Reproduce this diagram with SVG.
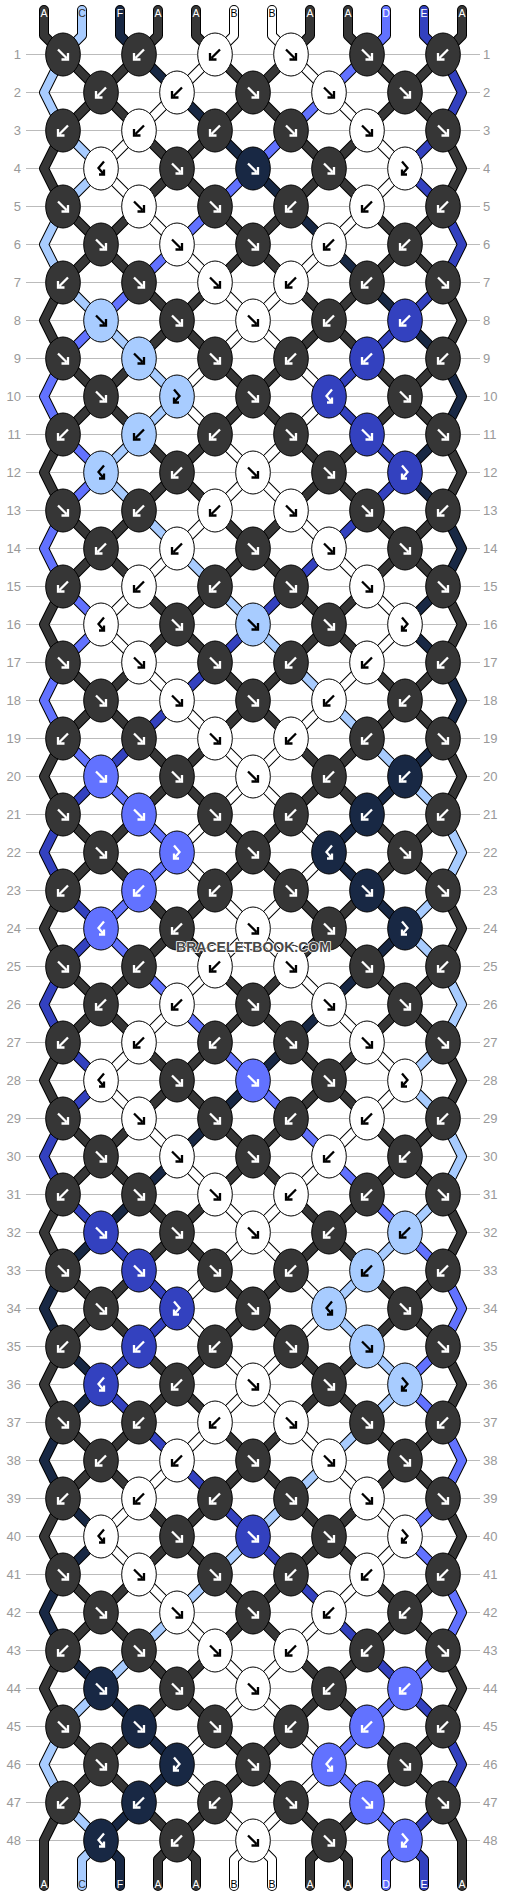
<svg xmlns="http://www.w3.org/2000/svg" xmlns:xlink="http://www.w3.org/1999/xlink" width="506" height="1896" viewBox="0 0 506 1896">
<style>
.rl{stroke:#bbb;stroke-width:1;fill:none}
.lab{font-family:"Liberation Sans",Arial,sans-serif;font-size:13px;fill:#999}
.sl{font-family:"Liberation Sans",Arial,sans-serif;font-size:10.5px;text-anchor:middle}
.so{fill:none;stroke:#000;stroke-width:10;stroke-linejoin:round;stroke-linecap:round}
.si{fill:none;stroke-width:8;stroke-linejoin:round;stroke-linecap:round}
.cA{stroke:#363636}.cB{stroke:#fff}.cC{stroke:#a8ccff}.cD{stroke:#6272ff}.cE{stroke:#3341bf}.cF{stroke:#182844}
.A{fill:#363636;stroke:#fff}.B{fill:#fff;stroke:#000}.C{fill:#a8ccff;stroke:#000}.D{fill:#6272ff;stroke:#fff}.E{fill:#3341bf;stroke:#fff}.F{fill:#182844;stroke:#fff}
.wm{font-family:"Liberation Sans",Arial,sans-serif;font-size:14px;font-weight:bold;fill:#484848;stroke:#fff;stroke-width:1.6px;paint-order:stroke;text-anchor:middle}
</style>
<defs>
<ellipse id="e" rx="17.3" ry="21.5" stroke="#000" stroke-width="1"/>
<path id="f" fill="none" stroke-width="2.3" d="M-5,-5L3.5,3.5M5,-1.5V5H-1.5"/>
<path id="b" fill="none" stroke-width="2.3" d="M5,-5L-3.5,3.5M-5,-1.5V5H1.5"/>
<path id="fb" fill="none" stroke-width="2.3" d="M-3,-7L2.5,-0.5L-3,6M-3,1V6H2"/>
<path id="bf" fill="none" stroke-width="2.3" d="M3,-7L-2.5,-0.5L3,6M3,1V6H-2"/>
<polyline id="s0" points="44,10 44,35.5 63,54.5 101,92.5 139,130.5 177,168.5 215,206.5 253,244.5 291,282.5 329,320.5 367,358.5 405,396.5 443,434.5 462,472.5 443,510.5 405,548.5 367,586.5 329,624.5 291,662.5 253,700.5 215,738.5 177,776.5 139,814.5 101,852.5 63,890.5 44,928.5 63,966.5 101,1004.5 139,1042.5 177,1080.5 215,1118.5 253,1156.5 291,1194.5 329,1232.5 367,1270.5 405,1308.5 443,1346.5 462,1384.5 443,1422.5 405,1460.5 367,1498.5 329,1536.5 291,1574.5 253,1612.5 215,1650.5 177,1688.5 139,1726.5 101,1764.5 63,1802.5 44,1840.5 44,1886"/>
<polyline id="s11" points="462,10 462,35.5 443,54.5 405,92.5 367,130.5 329,168.5 291,206.5 253,244.5 215,282.5 177,320.5 139,358.5 101,396.5 63,434.5 44,472.5 63,510.5 101,548.5 139,586.5 177,624.5 215,662.5 253,700.5 291,738.5 329,776.5 367,814.5 405,852.5 443,890.5 462,928.5 443,966.5 405,1004.5 367,1042.5 329,1080.5 291,1118.5 253,1156.5 215,1194.5 177,1232.5 139,1270.5 101,1308.5 63,1346.5 44,1384.5 63,1422.5 101,1460.5 139,1498.5 177,1536.5 215,1574.5 253,1612.5 291,1650.5 329,1688.5 367,1726.5 405,1764.5 443,1802.5 462,1840.5 462,1886"/>
<polyline id="s3" points="158,10 158,35.5 139,54.5 101,92.5 63,130.5 44,168.5 63,206.5 101,244.5 139,282.5 177,320.5 215,358.5 253,396.5 291,434.5 329,472.5 367,510.5 405,548.5 443,586.5 462,624.5 443,662.5 405,700.5 367,738.5 329,776.5 291,814.5 253,852.5 215,890.5 177,928.5 139,966.5 101,1004.5 63,1042.5 44,1080.5 63,1118.5 101,1156.5 139,1194.5 177,1232.5 215,1270.5 253,1308.5 291,1346.5 329,1384.5 367,1422.5 405,1460.5 443,1498.5 462,1536.5 443,1574.5 405,1612.5 367,1650.5 329,1688.5 291,1726.5 253,1764.5 215,1802.5 177,1840.5 158,1859.5 158,1886"/>
<polyline id="s8" points="348,10 348,35.5 367,54.5 405,92.5 443,130.5 462,168.5 443,206.5 405,244.5 367,282.5 329,320.5 291,358.5 253,396.5 215,434.5 177,472.5 139,510.5 101,548.5 63,586.5 44,624.5 63,662.5 101,700.5 139,738.5 177,776.5 215,814.5 253,852.5 291,890.5 329,928.5 367,966.5 405,1004.5 443,1042.5 462,1080.5 443,1118.5 405,1156.5 367,1194.5 329,1232.5 291,1270.5 253,1308.5 215,1346.5 177,1384.5 139,1422.5 101,1460.5 63,1498.5 44,1536.5 63,1574.5 101,1612.5 139,1650.5 177,1688.5 215,1726.5 253,1764.5 291,1802.5 329,1840.5 348,1859.5 348,1886"/>
<polyline id="s4" points="196,10 196,35.5 215,54.5 253,92.5 291,130.5 329,168.5 367,206.5 405,244.5 443,282.5 462,320.5 443,358.5 405,396.5 367,434.5 329,472.5 291,510.5 253,548.5 215,586.5 177,624.5 139,662.5 101,700.5 63,738.5 44,776.5 63,814.5 101,852.5 139,890.5 177,928.5 215,966.5 253,1004.5 291,1042.5 329,1080.5 367,1118.5 405,1156.5 443,1194.5 462,1232.5 443,1270.5 405,1308.5 367,1346.5 329,1384.5 291,1422.5 253,1460.5 215,1498.5 177,1536.5 139,1574.5 101,1612.5 63,1650.5 44,1688.5 63,1726.5 101,1764.5 139,1802.5 177,1840.5 196,1859.5 196,1886"/>
<polyline id="s7" points="310,10 310,35.5 291,54.5 253,92.5 215,130.5 177,168.5 139,206.5 101,244.5 63,282.5 44,320.5 63,358.5 101,396.5 139,434.5 177,472.5 215,510.5 253,548.5 291,586.5 329,624.5 367,662.5 405,700.5 443,738.5 462,776.5 443,814.5 405,852.5 367,890.5 329,928.5 291,966.5 253,1004.5 215,1042.5 177,1080.5 139,1118.5 101,1156.5 63,1194.5 44,1232.5 63,1270.5 101,1308.5 139,1346.5 177,1384.5 215,1422.5 253,1460.5 291,1498.5 329,1536.5 367,1574.5 405,1612.5 443,1650.5 462,1688.5 443,1726.5 405,1764.5 367,1802.5 329,1840.5 310,1859.5 310,1886"/>
<polyline id="s5" points="234,10 234,35.5 215,54.5 177,92.5 139,130.5 101,168.5 139,206.5 177,244.5 215,282.5 253,320.5 291,358.5 329,396.5 291,434.5 253,472.5 215,510.5 177,548.5 139,586.5 101,624.5 139,662.5 177,700.5 215,738.5 253,776.5 291,814.5 329,852.5 291,890.5 253,928.5 215,966.5 177,1004.5 139,1042.5 101,1080.5 139,1118.5 177,1156.5 215,1194.5 253,1232.5 291,1270.5 329,1308.5 291,1346.5 253,1384.5 215,1422.5 177,1460.5 139,1498.5 101,1536.5 139,1574.5 177,1612.5 215,1650.5 253,1688.5 291,1726.5 329,1764.5 291,1802.5 253,1840.5 234,1859.5 234,1886"/>
<polyline id="s6" points="272,10 272,35.5 291,54.5 329,92.5 367,130.5 405,168.5 367,206.5 329,244.5 291,282.5 253,320.5 215,358.5 177,396.5 215,434.5 253,472.5 291,510.5 329,548.5 367,586.5 405,624.5 367,662.5 329,700.5 291,738.5 253,776.5 215,814.5 177,852.5 215,890.5 253,928.5 291,966.5 329,1004.5 367,1042.5 405,1080.5 367,1118.5 329,1156.5 291,1194.5 253,1232.5 215,1270.5 177,1308.5 215,1346.5 253,1384.5 291,1422.5 329,1460.5 367,1498.5 405,1536.5 367,1574.5 329,1612.5 291,1650.5 253,1688.5 215,1726.5 177,1764.5 215,1802.5 253,1840.5 272,1859.5 272,1886"/>
<polyline id="s1" points="82,10 82,35.5 63,54.5 44,92.5 63,130.5 101,168.5 63,206.5 44,244.5 63,282.5 101,320.5 139,358.5 177,396.5 139,434.5 101,472.5 139,510.5 177,548.5 215,586.5 253,624.5 291,662.5 329,700.5 367,738.5 405,776.5 443,814.5 462,852.5 443,890.5 405,928.5 443,966.5 462,1004.5 443,1042.5 405,1080.5 443,1118.5 462,1156.5 443,1194.5 405,1232.5 367,1270.5 329,1308.5 367,1346.5 405,1384.5 367,1422.5 329,1460.5 291,1498.5 253,1536.5 215,1574.5 177,1612.5 139,1650.5 101,1688.5 63,1726.5 44,1764.5 63,1802.5 101,1840.5 82,1859.5 82,1886"/>
<polyline id="s2" points="120,10 120,35.5 139,54.5 177,92.5 215,130.5 253,168.5 291,206.5 329,244.5 367,282.5 405,320.5 443,358.5 462,396.5 443,434.5 405,472.5 443,510.5 462,548.5 443,586.5 405,624.5 443,662.5 462,700.5 443,738.5 405,776.5 367,814.5 329,852.5 367,890.5 405,928.5 367,966.5 329,1004.5 291,1042.5 253,1080.5 215,1118.5 177,1156.5 139,1194.5 101,1232.5 63,1270.5 44,1308.5 63,1346.5 101,1384.5 63,1422.5 44,1460.5 63,1498.5 101,1536.5 63,1574.5 44,1612.5 63,1650.5 101,1688.5 139,1726.5 177,1764.5 139,1802.5 101,1840.5 120,1859.5 120,1886"/>
<polyline id="s9" points="386,10 386,35.5 367,54.5 329,92.5 291,130.5 253,168.5 215,206.5 177,244.5 139,282.5 101,320.5 63,358.5 44,396.5 63,434.5 101,472.5 63,510.5 44,548.5 63,586.5 101,624.5 63,662.5 44,700.5 63,738.5 101,776.5 139,814.5 177,852.5 139,890.5 101,928.5 139,966.5 177,1004.5 215,1042.5 253,1080.5 291,1118.5 329,1156.5 367,1194.5 405,1232.5 443,1270.5 462,1308.5 443,1346.5 405,1384.5 443,1422.5 462,1460.5 443,1498.5 405,1536.5 443,1574.5 462,1612.5 443,1650.5 405,1688.5 367,1726.5 329,1764.5 367,1802.5 405,1840.5 386,1859.5 386,1886"/>
<polyline id="s10" points="424,10 424,35.5 443,54.5 462,92.5 443,130.5 405,168.5 443,206.5 462,244.5 443,282.5 405,320.5 367,358.5 329,396.5 367,434.5 405,472.5 367,510.5 329,548.5 291,586.5 253,624.5 215,662.5 177,700.5 139,738.5 101,776.5 63,814.5 44,852.5 63,890.5 101,928.5 63,966.5 44,1004.5 63,1042.5 101,1080.5 63,1118.5 44,1156.5 63,1194.5 101,1232.5 139,1270.5 177,1308.5 139,1346.5 101,1384.5 139,1422.5 177,1460.5 215,1498.5 253,1536.5 291,1574.5 329,1612.5 367,1650.5 405,1688.5 443,1726.5 462,1764.5 443,1802.5 405,1840.5 424,1859.5 424,1886"/>
</defs>
<rect width="506" height="1896" fill="#fff"/>
<path class="rl" d="M26,54.5H480M26,92.5H480M26,130.5H480M26,168.5H480M26,206.5H480M26,244.5H480M26,282.5H480M26,320.5H480M26,358.5H480M26,396.5H480M26,434.5H480M26,472.5H480M26,510.5H480M26,548.5H480M26,586.5H480M26,624.5H480M26,662.5H480M26,700.5H480M26,738.5H480M26,776.5H480M26,814.5H480M26,852.5H480M26,890.5H480M26,928.5H480M26,966.5H480M26,1004.5H480M26,1042.5H480M26,1080.5H480M26,1118.5H480M26,1156.5H480M26,1194.5H480M26,1232.5H480M26,1270.5H480M26,1308.5H480M26,1346.5H480M26,1384.5H480M26,1422.5H480M26,1460.5H480M26,1498.5H480M26,1536.5H480M26,1574.5H480M26,1612.5H480M26,1650.5H480M26,1688.5H480M26,1726.5H480M26,1764.5H480M26,1802.5H480M26,1840.5H480"/>
<g id="rowlabels" class="lab">
<g text-anchor="end">
<text x="21" y="59">1</text><text x="21" y="97">2</text><text x="21" y="135">3</text><text x="21" y="173">4</text><text x="21" y="211">5</text><text x="21" y="249">6</text><text x="21" y="287">7</text><text x="21" y="325">8</text><text x="21" y="363">9</text><text x="21" y="401">10</text><text x="21" y="439">11</text><text x="21" y="477">12</text><text x="21" y="515">13</text><text x="21" y="553">14</text><text x="21" y="591">15</text><text x="21" y="629">16</text><text x="21" y="667">17</text><text x="21" y="705">18</text><text x="21" y="743">19</text><text x="21" y="781">20</text><text x="21" y="819">21</text><text x="21" y="857">22</text><text x="21" y="895">23</text><text x="21" y="933">24</text><text x="21" y="971">25</text><text x="21" y="1009">26</text><text x="21" y="1047">27</text><text x="21" y="1085">28</text><text x="21" y="1123">29</text><text x="21" y="1161">30</text><text x="21" y="1199">31</text><text x="21" y="1237">32</text><text x="21" y="1275">33</text><text x="21" y="1313">34</text><text x="21" y="1351">35</text><text x="21" y="1389">36</text><text x="21" y="1427">37</text><text x="21" y="1465">38</text><text x="21" y="1503">39</text><text x="21" y="1541">40</text><text x="21" y="1579">41</text><text x="21" y="1617">42</text><text x="21" y="1655">43</text><text x="21" y="1693">44</text><text x="21" y="1731">45</text><text x="21" y="1769">46</text><text x="21" y="1807">47</text><text x="21" y="1845">48</text>
</g>
<g text-anchor="start">
<text x="483" y="59">1</text><text x="483" y="97">2</text><text x="483" y="135">3</text><text x="483" y="173">4</text><text x="483" y="211">5</text><text x="483" y="249">6</text><text x="483" y="287">7</text><text x="483" y="325">8</text><text x="483" y="363">9</text><text x="483" y="401">10</text><text x="483" y="439">11</text><text x="483" y="477">12</text><text x="483" y="515">13</text><text x="483" y="553">14</text><text x="483" y="591">15</text><text x="483" y="629">16</text><text x="483" y="667">17</text><text x="483" y="705">18</text><text x="483" y="743">19</text><text x="483" y="781">20</text><text x="483" y="819">21</text><text x="483" y="857">22</text><text x="483" y="895">23</text><text x="483" y="933">24</text><text x="483" y="971">25</text><text x="483" y="1009">26</text><text x="483" y="1047">27</text><text x="483" y="1085">28</text><text x="483" y="1123">29</text><text x="483" y="1161">30</text><text x="483" y="1199">31</text><text x="483" y="1237">32</text><text x="483" y="1275">33</text><text x="483" y="1313">34</text><text x="483" y="1351">35</text><text x="483" y="1389">36</text><text x="483" y="1427">37</text><text x="483" y="1465">38</text><text x="483" y="1503">39</text><text x="483" y="1541">40</text><text x="483" y="1579">41</text><text x="483" y="1617">42</text><text x="483" y="1655">43</text><text x="483" y="1693">44</text><text x="483" y="1731">45</text><text x="483" y="1769">46</text><text x="483" y="1807">47</text><text x="483" y="1845">48</text>
</g>
</g>
<g id="strings">
<use href="#s0" class="so"/><use href="#s1" class="so"/><use href="#s2" class="so"/><use href="#s3" class="so"/><use href="#s4" class="so"/><use href="#s5" class="so"/><use href="#s6" class="so"/><use href="#s7" class="so"/><use href="#s8" class="so"/><use href="#s9" class="so"/><use href="#s10" class="so"/><use href="#s11" class="so"/>
<use href="#s0" class="si cA"/><use href="#s1" class="si cC"/><use href="#s2" class="si cF"/><use href="#s3" class="si cA"/><use href="#s4" class="si cA"/><use href="#s5" class="si cB"/><use href="#s6" class="si cB"/><use href="#s7" class="si cA"/><use href="#s8" class="si cA"/><use href="#s9" class="si cD"/><use href="#s10" class="si cE"/><use href="#s11" class="si cA"/>
</g>
<g id="knots">
<g id="k1-1" class="A" transform="translate(63 54.5)"><use href="#e"/><use href="#f"/></g>
<g id="k1-2" class="A" transform="translate(139 54.5)"><use href="#e"/><use href="#b"/></g>
<g id="k1-3" class="B" transform="translate(215 54.5)"><use href="#e"/><use href="#b"/></g>
<g id="k1-4" class="B" transform="translate(291 54.5)"><use href="#e"/><use href="#f"/></g>
<g id="k1-5" class="A" transform="translate(367 54.5)"><use href="#e"/><use href="#f"/></g>
<g id="k1-6" class="A" transform="translate(443 54.5)"><use href="#e"/><use href="#b"/></g>
<g id="k2-1" class="A" transform="translate(101 92.5)"><use href="#e"/><use href="#b"/></g>
<g id="k2-2" class="B" transform="translate(177 92.5)"><use href="#e"/><use href="#b"/></g>
<g id="k2-3" class="A" transform="translate(253 92.5)"><use href="#e"/><use href="#f"/></g>
<g id="k2-4" class="B" transform="translate(329 92.5)"><use href="#e"/><use href="#f"/></g>
<g id="k2-5" class="A" transform="translate(405 92.5)"><use href="#e"/><use href="#f"/></g>
<g id="k3-1" class="A" transform="translate(63 130.5)"><use href="#e"/><use href="#b"/></g>
<g id="k3-2" class="B" transform="translate(139 130.5)"><use href="#e"/><use href="#b"/></g>
<g id="k3-3" class="A" transform="translate(215 130.5)"><use href="#e"/><use href="#b"/></g>
<g id="k3-4" class="A" transform="translate(291 130.5)"><use href="#e"/><use href="#f"/></g>
<g id="k3-5" class="B" transform="translate(367 130.5)"><use href="#e"/><use href="#f"/></g>
<g id="k3-6" class="A" transform="translate(443 130.5)"><use href="#e"/><use href="#f"/></g>
<g id="k4-1" class="B" transform="translate(101 168.5)"><use href="#e"/><use href="#bf"/></g>
<g id="k4-2" class="A" transform="translate(177 168.5)"><use href="#e"/><use href="#f"/></g>
<g id="k4-3" class="F" transform="translate(253 168.5)"><use href="#e"/><use href="#f"/></g>
<g id="k4-4" class="A" transform="translate(329 168.5)"><use href="#e"/><use href="#f"/></g>
<g id="k4-5" class="B" transform="translate(405 168.5)"><use href="#e"/><use href="#fb"/></g>
<g id="k5-1" class="A" transform="translate(63 206.5)"><use href="#e"/><use href="#f"/></g>
<g id="k5-2" class="B" transform="translate(139 206.5)"><use href="#e"/><use href="#f"/></g>
<g id="k5-3" class="A" transform="translate(215 206.5)"><use href="#e"/><use href="#f"/></g>
<g id="k5-4" class="A" transform="translate(291 206.5)"><use href="#e"/><use href="#b"/></g>
<g id="k5-5" class="B" transform="translate(367 206.5)"><use href="#e"/><use href="#b"/></g>
<g id="k5-6" class="A" transform="translate(443 206.5)"><use href="#e"/><use href="#b"/></g>
<g id="k6-1" class="A" transform="translate(101 244.5)"><use href="#e"/><use href="#f"/></g>
<g id="k6-2" class="B" transform="translate(177 244.5)"><use href="#e"/><use href="#f"/></g>
<g id="k6-3" class="A" transform="translate(253 244.5)"><use href="#e"/><use href="#f"/></g>
<g id="k6-4" class="B" transform="translate(329 244.5)"><use href="#e"/><use href="#b"/></g>
<g id="k6-5" class="A" transform="translate(405 244.5)"><use href="#e"/><use href="#b"/></g>
<g id="k7-1" class="A" transform="translate(63 282.5)"><use href="#e"/><use href="#b"/></g>
<g id="k7-2" class="A" transform="translate(139 282.5)"><use href="#e"/><use href="#f"/></g>
<g id="k7-3" class="B" transform="translate(215 282.5)"><use href="#e"/><use href="#f"/></g>
<g id="k7-4" class="B" transform="translate(291 282.5)"><use href="#e"/><use href="#b"/></g>
<g id="k7-5" class="A" transform="translate(367 282.5)"><use href="#e"/><use href="#b"/></g>
<g id="k7-6" class="A" transform="translate(443 282.5)"><use href="#e"/><use href="#f"/></g>
<g id="k8-1" class="C" transform="translate(101 320.5)"><use href="#e"/><use href="#f"/></g>
<g id="k8-2" class="A" transform="translate(177 320.5)"><use href="#e"/><use href="#f"/></g>
<g id="k8-3" class="B" transform="translate(253 320.5)"><use href="#e"/><use href="#f"/></g>
<g id="k8-4" class="A" transform="translate(329 320.5)"><use href="#e"/><use href="#b"/></g>
<g id="k8-5" class="E" transform="translate(405 320.5)"><use href="#e"/><use href="#b"/></g>
<g id="k9-1" class="A" transform="translate(63 358.5)"><use href="#e"/><use href="#f"/></g>
<g id="k9-2" class="C" transform="translate(139 358.5)"><use href="#e"/><use href="#f"/></g>
<g id="k9-3" class="A" transform="translate(215 358.5)"><use href="#e"/><use href="#f"/></g>
<g id="k9-4" class="A" transform="translate(291 358.5)"><use href="#e"/><use href="#b"/></g>
<g id="k9-5" class="E" transform="translate(367 358.5)"><use href="#e"/><use href="#b"/></g>
<g id="k9-6" class="A" transform="translate(443 358.5)"><use href="#e"/><use href="#b"/></g>
<g id="k10-1" class="A" transform="translate(101 396.5)"><use href="#e"/><use href="#f"/></g>
<g id="k10-2" class="C" transform="translate(177 396.5)"><use href="#e"/><use href="#fb"/></g>
<g id="k10-3" class="A" transform="translate(253 396.5)"><use href="#e"/><use href="#f"/></g>
<g id="k10-4" class="E" transform="translate(329 396.5)"><use href="#e"/><use href="#bf"/></g>
<g id="k10-5" class="A" transform="translate(405 396.5)"><use href="#e"/><use href="#f"/></g>
<g id="k11-1" class="A" transform="translate(63 434.5)"><use href="#e"/><use href="#b"/></g>
<g id="k11-2" class="C" transform="translate(139 434.5)"><use href="#e"/><use href="#b"/></g>
<g id="k11-3" class="A" transform="translate(215 434.5)"><use href="#e"/><use href="#b"/></g>
<g id="k11-4" class="A" transform="translate(291 434.5)"><use href="#e"/><use href="#f"/></g>
<g id="k11-5" class="E" transform="translate(367 434.5)"><use href="#e"/><use href="#f"/></g>
<g id="k11-6" class="A" transform="translate(443 434.5)"><use href="#e"/><use href="#f"/></g>
<g id="k12-1" class="C" transform="translate(101 472.5)"><use href="#e"/><use href="#bf"/></g>
<g id="k12-2" class="A" transform="translate(177 472.5)"><use href="#e"/><use href="#b"/></g>
<g id="k12-3" class="B" transform="translate(253 472.5)"><use href="#e"/><use href="#f"/></g>
<g id="k12-4" class="A" transform="translate(329 472.5)"><use href="#e"/><use href="#f"/></g>
<g id="k12-5" class="E" transform="translate(405 472.5)"><use href="#e"/><use href="#fb"/></g>
<g id="k13-1" class="A" transform="translate(63 510.5)"><use href="#e"/><use href="#f"/></g>
<g id="k13-2" class="A" transform="translate(139 510.5)"><use href="#e"/><use href="#b"/></g>
<g id="k13-3" class="B" transform="translate(215 510.5)"><use href="#e"/><use href="#b"/></g>
<g id="k13-4" class="B" transform="translate(291 510.5)"><use href="#e"/><use href="#f"/></g>
<g id="k13-5" class="A" transform="translate(367 510.5)"><use href="#e"/><use href="#f"/></g>
<g id="k13-6" class="A" transform="translate(443 510.5)"><use href="#e"/><use href="#b"/></g>
<g id="k14-1" class="A" transform="translate(101 548.5)"><use href="#e"/><use href="#b"/></g>
<g id="k14-2" class="B" transform="translate(177 548.5)"><use href="#e"/><use href="#b"/></g>
<g id="k14-3" class="A" transform="translate(253 548.5)"><use href="#e"/><use href="#f"/></g>
<g id="k14-4" class="B" transform="translate(329 548.5)"><use href="#e"/><use href="#f"/></g>
<g id="k14-5" class="A" transform="translate(405 548.5)"><use href="#e"/><use href="#f"/></g>
<g id="k15-1" class="A" transform="translate(63 586.5)"><use href="#e"/><use href="#b"/></g>
<g id="k15-2" class="B" transform="translate(139 586.5)"><use href="#e"/><use href="#b"/></g>
<g id="k15-3" class="A" transform="translate(215 586.5)"><use href="#e"/><use href="#b"/></g>
<g id="k15-4" class="A" transform="translate(291 586.5)"><use href="#e"/><use href="#f"/></g>
<g id="k15-5" class="B" transform="translate(367 586.5)"><use href="#e"/><use href="#f"/></g>
<g id="k15-6" class="A" transform="translate(443 586.5)"><use href="#e"/><use href="#f"/></g>
<g id="k16-1" class="B" transform="translate(101 624.5)"><use href="#e"/><use href="#bf"/></g>
<g id="k16-2" class="A" transform="translate(177 624.5)"><use href="#e"/><use href="#f"/></g>
<g id="k16-3" class="C" transform="translate(253 624.5)"><use href="#e"/><use href="#f"/></g>
<g id="k16-4" class="A" transform="translate(329 624.5)"><use href="#e"/><use href="#f"/></g>
<g id="k16-5" class="B" transform="translate(405 624.5)"><use href="#e"/><use href="#fb"/></g>
<g id="k17-1" class="A" transform="translate(63 662.5)"><use href="#e"/><use href="#f"/></g>
<g id="k17-2" class="B" transform="translate(139 662.5)"><use href="#e"/><use href="#f"/></g>
<g id="k17-3" class="A" transform="translate(215 662.5)"><use href="#e"/><use href="#f"/></g>
<g id="k17-4" class="A" transform="translate(291 662.5)"><use href="#e"/><use href="#b"/></g>
<g id="k17-5" class="B" transform="translate(367 662.5)"><use href="#e"/><use href="#b"/></g>
<g id="k17-6" class="A" transform="translate(443 662.5)"><use href="#e"/><use href="#b"/></g>
<g id="k18-1" class="A" transform="translate(101 700.5)"><use href="#e"/><use href="#f"/></g>
<g id="k18-2" class="B" transform="translate(177 700.5)"><use href="#e"/><use href="#f"/></g>
<g id="k18-3" class="A" transform="translate(253 700.5)"><use href="#e"/><use href="#f"/></g>
<g id="k18-4" class="B" transform="translate(329 700.5)"><use href="#e"/><use href="#b"/></g>
<g id="k18-5" class="A" transform="translate(405 700.5)"><use href="#e"/><use href="#b"/></g>
<g id="k19-1" class="A" transform="translate(63 738.5)"><use href="#e"/><use href="#b"/></g>
<g id="k19-2" class="A" transform="translate(139 738.5)"><use href="#e"/><use href="#f"/></g>
<g id="k19-3" class="B" transform="translate(215 738.5)"><use href="#e"/><use href="#f"/></g>
<g id="k19-4" class="B" transform="translate(291 738.5)"><use href="#e"/><use href="#b"/></g>
<g id="k19-5" class="A" transform="translate(367 738.5)"><use href="#e"/><use href="#b"/></g>
<g id="k19-6" class="A" transform="translate(443 738.5)"><use href="#e"/><use href="#f"/></g>
<g id="k20-1" class="D" transform="translate(101 776.5)"><use href="#e"/><use href="#f"/></g>
<g id="k20-2" class="A" transform="translate(177 776.5)"><use href="#e"/><use href="#f"/></g>
<g id="k20-3" class="B" transform="translate(253 776.5)"><use href="#e"/><use href="#f"/></g>
<g id="k20-4" class="A" transform="translate(329 776.5)"><use href="#e"/><use href="#b"/></g>
<g id="k20-5" class="F" transform="translate(405 776.5)"><use href="#e"/><use href="#b"/></g>
<g id="k21-1" class="A" transform="translate(63 814.5)"><use href="#e"/><use href="#f"/></g>
<g id="k21-2" class="D" transform="translate(139 814.5)"><use href="#e"/><use href="#f"/></g>
<g id="k21-3" class="A" transform="translate(215 814.5)"><use href="#e"/><use href="#f"/></g>
<g id="k21-4" class="A" transform="translate(291 814.5)"><use href="#e"/><use href="#b"/></g>
<g id="k21-5" class="F" transform="translate(367 814.5)"><use href="#e"/><use href="#b"/></g>
<g id="k21-6" class="A" transform="translate(443 814.5)"><use href="#e"/><use href="#b"/></g>
<g id="k22-1" class="A" transform="translate(101 852.5)"><use href="#e"/><use href="#f"/></g>
<g id="k22-2" class="D" transform="translate(177 852.5)"><use href="#e"/><use href="#fb"/></g>
<g id="k22-3" class="A" transform="translate(253 852.5)"><use href="#e"/><use href="#f"/></g>
<g id="k22-4" class="F" transform="translate(329 852.5)"><use href="#e"/><use href="#bf"/></g>
<g id="k22-5" class="A" transform="translate(405 852.5)"><use href="#e"/><use href="#f"/></g>
<g id="k23-1" class="A" transform="translate(63 890.5)"><use href="#e"/><use href="#b"/></g>
<g id="k23-2" class="D" transform="translate(139 890.5)"><use href="#e"/><use href="#b"/></g>
<g id="k23-3" class="A" transform="translate(215 890.5)"><use href="#e"/><use href="#b"/></g>
<g id="k23-4" class="A" transform="translate(291 890.5)"><use href="#e"/><use href="#f"/></g>
<g id="k23-5" class="F" transform="translate(367 890.5)"><use href="#e"/><use href="#f"/></g>
<g id="k23-6" class="A" transform="translate(443 890.5)"><use href="#e"/><use href="#f"/></g>
<g id="k24-1" class="D" transform="translate(101 928.5)"><use href="#e"/><use href="#bf"/></g>
<g id="k24-2" class="A" transform="translate(177 928.5)"><use href="#e"/><use href="#b"/></g>
<g id="k24-3" class="B" transform="translate(253 928.5)"><use href="#e"/><use href="#f"/></g>
<g id="k24-4" class="A" transform="translate(329 928.5)"><use href="#e"/><use href="#f"/></g>
<g id="k24-5" class="F" transform="translate(405 928.5)"><use href="#e"/><use href="#fb"/></g>
<g id="k25-1" class="A" transform="translate(63 966.5)"><use href="#e"/><use href="#f"/></g>
<g id="k25-2" class="A" transform="translate(139 966.5)"><use href="#e"/><use href="#b"/></g>
<g id="k25-3" class="B" transform="translate(215 966.5)"><use href="#e"/><use href="#b"/></g>
<g id="k25-4" class="B" transform="translate(291 966.5)"><use href="#e"/><use href="#f"/></g>
<g id="k25-5" class="A" transform="translate(367 966.5)"><use href="#e"/><use href="#f"/></g>
<g id="k25-6" class="A" transform="translate(443 966.5)"><use href="#e"/><use href="#b"/></g>
<g id="k26-1" class="A" transform="translate(101 1004.5)"><use href="#e"/><use href="#b"/></g>
<g id="k26-2" class="B" transform="translate(177 1004.5)"><use href="#e"/><use href="#b"/></g>
<g id="k26-3" class="A" transform="translate(253 1004.5)"><use href="#e"/><use href="#f"/></g>
<g id="k26-4" class="B" transform="translate(329 1004.5)"><use href="#e"/><use href="#f"/></g>
<g id="k26-5" class="A" transform="translate(405 1004.5)"><use href="#e"/><use href="#f"/></g>
<g id="k27-1" class="A" transform="translate(63 1042.5)"><use href="#e"/><use href="#b"/></g>
<g id="k27-2" class="B" transform="translate(139 1042.5)"><use href="#e"/><use href="#b"/></g>
<g id="k27-3" class="A" transform="translate(215 1042.5)"><use href="#e"/><use href="#b"/></g>
<g id="k27-4" class="A" transform="translate(291 1042.5)"><use href="#e"/><use href="#f"/></g>
<g id="k27-5" class="B" transform="translate(367 1042.5)"><use href="#e"/><use href="#f"/></g>
<g id="k27-6" class="A" transform="translate(443 1042.5)"><use href="#e"/><use href="#f"/></g>
<g id="k28-1" class="B" transform="translate(101 1080.5)"><use href="#e"/><use href="#bf"/></g>
<g id="k28-2" class="A" transform="translate(177 1080.5)"><use href="#e"/><use href="#f"/></g>
<g id="k28-3" class="D" transform="translate(253 1080.5)"><use href="#e"/><use href="#f"/></g>
<g id="k28-4" class="A" transform="translate(329 1080.5)"><use href="#e"/><use href="#f"/></g>
<g id="k28-5" class="B" transform="translate(405 1080.5)"><use href="#e"/><use href="#fb"/></g>
<g id="k29-1" class="A" transform="translate(63 1118.5)"><use href="#e"/><use href="#f"/></g>
<g id="k29-2" class="B" transform="translate(139 1118.5)"><use href="#e"/><use href="#f"/></g>
<g id="k29-3" class="A" transform="translate(215 1118.5)"><use href="#e"/><use href="#f"/></g>
<g id="k29-4" class="A" transform="translate(291 1118.5)"><use href="#e"/><use href="#b"/></g>
<g id="k29-5" class="B" transform="translate(367 1118.5)"><use href="#e"/><use href="#b"/></g>
<g id="k29-6" class="A" transform="translate(443 1118.5)"><use href="#e"/><use href="#b"/></g>
<g id="k30-1" class="A" transform="translate(101 1156.5)"><use href="#e"/><use href="#f"/></g>
<g id="k30-2" class="B" transform="translate(177 1156.5)"><use href="#e"/><use href="#f"/></g>
<g id="k30-3" class="A" transform="translate(253 1156.5)"><use href="#e"/><use href="#f"/></g>
<g id="k30-4" class="B" transform="translate(329 1156.5)"><use href="#e"/><use href="#b"/></g>
<g id="k30-5" class="A" transform="translate(405 1156.5)"><use href="#e"/><use href="#b"/></g>
<g id="k31-1" class="A" transform="translate(63 1194.5)"><use href="#e"/><use href="#b"/></g>
<g id="k31-2" class="A" transform="translate(139 1194.5)"><use href="#e"/><use href="#f"/></g>
<g id="k31-3" class="B" transform="translate(215 1194.5)"><use href="#e"/><use href="#f"/></g>
<g id="k31-4" class="B" transform="translate(291 1194.5)"><use href="#e"/><use href="#b"/></g>
<g id="k31-5" class="A" transform="translate(367 1194.5)"><use href="#e"/><use href="#b"/></g>
<g id="k31-6" class="A" transform="translate(443 1194.5)"><use href="#e"/><use href="#f"/></g>
<g id="k32-1" class="E" transform="translate(101 1232.5)"><use href="#e"/><use href="#f"/></g>
<g id="k32-2" class="A" transform="translate(177 1232.5)"><use href="#e"/><use href="#f"/></g>
<g id="k32-3" class="B" transform="translate(253 1232.5)"><use href="#e"/><use href="#f"/></g>
<g id="k32-4" class="A" transform="translate(329 1232.5)"><use href="#e"/><use href="#b"/></g>
<g id="k32-5" class="C" transform="translate(405 1232.5)"><use href="#e"/><use href="#b"/></g>
<g id="k33-1" class="A" transform="translate(63 1270.5)"><use href="#e"/><use href="#f"/></g>
<g id="k33-2" class="E" transform="translate(139 1270.5)"><use href="#e"/><use href="#f"/></g>
<g id="k33-3" class="A" transform="translate(215 1270.5)"><use href="#e"/><use href="#f"/></g>
<g id="k33-4" class="A" transform="translate(291 1270.5)"><use href="#e"/><use href="#b"/></g>
<g id="k33-5" class="C" transform="translate(367 1270.5)"><use href="#e"/><use href="#b"/></g>
<g id="k33-6" class="A" transform="translate(443 1270.5)"><use href="#e"/><use href="#b"/></g>
<g id="k34-1" class="A" transform="translate(101 1308.5)"><use href="#e"/><use href="#f"/></g>
<g id="k34-2" class="E" transform="translate(177 1308.5)"><use href="#e"/><use href="#fb"/></g>
<g id="k34-3" class="A" transform="translate(253 1308.5)"><use href="#e"/><use href="#f"/></g>
<g id="k34-4" class="C" transform="translate(329 1308.5)"><use href="#e"/><use href="#bf"/></g>
<g id="k34-5" class="A" transform="translate(405 1308.5)"><use href="#e"/><use href="#f"/></g>
<g id="k35-1" class="A" transform="translate(63 1346.5)"><use href="#e"/><use href="#b"/></g>
<g id="k35-2" class="E" transform="translate(139 1346.5)"><use href="#e"/><use href="#b"/></g>
<g id="k35-3" class="A" transform="translate(215 1346.5)"><use href="#e"/><use href="#b"/></g>
<g id="k35-4" class="A" transform="translate(291 1346.5)"><use href="#e"/><use href="#f"/></g>
<g id="k35-5" class="C" transform="translate(367 1346.5)"><use href="#e"/><use href="#f"/></g>
<g id="k35-6" class="A" transform="translate(443 1346.5)"><use href="#e"/><use href="#f"/></g>
<g id="k36-1" class="E" transform="translate(101 1384.5)"><use href="#e"/><use href="#bf"/></g>
<g id="k36-2" class="A" transform="translate(177 1384.5)"><use href="#e"/><use href="#b"/></g>
<g id="k36-3" class="B" transform="translate(253 1384.5)"><use href="#e"/><use href="#f"/></g>
<g id="k36-4" class="A" transform="translate(329 1384.5)"><use href="#e"/><use href="#f"/></g>
<g id="k36-5" class="C" transform="translate(405 1384.5)"><use href="#e"/><use href="#fb"/></g>
<g id="k37-1" class="A" transform="translate(63 1422.5)"><use href="#e"/><use href="#f"/></g>
<g id="k37-2" class="A" transform="translate(139 1422.5)"><use href="#e"/><use href="#b"/></g>
<g id="k37-3" class="B" transform="translate(215 1422.5)"><use href="#e"/><use href="#b"/></g>
<g id="k37-4" class="B" transform="translate(291 1422.5)"><use href="#e"/><use href="#f"/></g>
<g id="k37-5" class="A" transform="translate(367 1422.5)"><use href="#e"/><use href="#f"/></g>
<g id="k37-6" class="A" transform="translate(443 1422.5)"><use href="#e"/><use href="#b"/></g>
<g id="k38-1" class="A" transform="translate(101 1460.5)"><use href="#e"/><use href="#b"/></g>
<g id="k38-2" class="B" transform="translate(177 1460.5)"><use href="#e"/><use href="#b"/></g>
<g id="k38-3" class="A" transform="translate(253 1460.5)"><use href="#e"/><use href="#f"/></g>
<g id="k38-4" class="B" transform="translate(329 1460.5)"><use href="#e"/><use href="#f"/></g>
<g id="k38-5" class="A" transform="translate(405 1460.5)"><use href="#e"/><use href="#f"/></g>
<g id="k39-1" class="A" transform="translate(63 1498.5)"><use href="#e"/><use href="#b"/></g>
<g id="k39-2" class="B" transform="translate(139 1498.5)"><use href="#e"/><use href="#b"/></g>
<g id="k39-3" class="A" transform="translate(215 1498.5)"><use href="#e"/><use href="#b"/></g>
<g id="k39-4" class="A" transform="translate(291 1498.5)"><use href="#e"/><use href="#f"/></g>
<g id="k39-5" class="B" transform="translate(367 1498.5)"><use href="#e"/><use href="#f"/></g>
<g id="k39-6" class="A" transform="translate(443 1498.5)"><use href="#e"/><use href="#f"/></g>
<g id="k40-1" class="B" transform="translate(101 1536.5)"><use href="#e"/><use href="#bf"/></g>
<g id="k40-2" class="A" transform="translate(177 1536.5)"><use href="#e"/><use href="#f"/></g>
<g id="k40-3" class="E" transform="translate(253 1536.5)"><use href="#e"/><use href="#f"/></g>
<g id="k40-4" class="A" transform="translate(329 1536.5)"><use href="#e"/><use href="#f"/></g>
<g id="k40-5" class="B" transform="translate(405 1536.5)"><use href="#e"/><use href="#fb"/></g>
<g id="k41-1" class="A" transform="translate(63 1574.5)"><use href="#e"/><use href="#f"/></g>
<g id="k41-2" class="B" transform="translate(139 1574.5)"><use href="#e"/><use href="#f"/></g>
<g id="k41-3" class="A" transform="translate(215 1574.5)"><use href="#e"/><use href="#f"/></g>
<g id="k41-4" class="A" transform="translate(291 1574.5)"><use href="#e"/><use href="#b"/></g>
<g id="k41-5" class="B" transform="translate(367 1574.5)"><use href="#e"/><use href="#b"/></g>
<g id="k41-6" class="A" transform="translate(443 1574.5)"><use href="#e"/><use href="#b"/></g>
<g id="k42-1" class="A" transform="translate(101 1612.5)"><use href="#e"/><use href="#f"/></g>
<g id="k42-2" class="B" transform="translate(177 1612.5)"><use href="#e"/><use href="#f"/></g>
<g id="k42-3" class="A" transform="translate(253 1612.5)"><use href="#e"/><use href="#f"/></g>
<g id="k42-4" class="B" transform="translate(329 1612.5)"><use href="#e"/><use href="#b"/></g>
<g id="k42-5" class="A" transform="translate(405 1612.5)"><use href="#e"/><use href="#b"/></g>
<g id="k43-1" class="A" transform="translate(63 1650.5)"><use href="#e"/><use href="#b"/></g>
<g id="k43-2" class="A" transform="translate(139 1650.5)"><use href="#e"/><use href="#f"/></g>
<g id="k43-3" class="B" transform="translate(215 1650.5)"><use href="#e"/><use href="#f"/></g>
<g id="k43-4" class="B" transform="translate(291 1650.5)"><use href="#e"/><use href="#b"/></g>
<g id="k43-5" class="A" transform="translate(367 1650.5)"><use href="#e"/><use href="#b"/></g>
<g id="k43-6" class="A" transform="translate(443 1650.5)"><use href="#e"/><use href="#f"/></g>
<g id="k44-1" class="F" transform="translate(101 1688.5)"><use href="#e"/><use href="#f"/></g>
<g id="k44-2" class="A" transform="translate(177 1688.5)"><use href="#e"/><use href="#f"/></g>
<g id="k44-3" class="B" transform="translate(253 1688.5)"><use href="#e"/><use href="#f"/></g>
<g id="k44-4" class="A" transform="translate(329 1688.5)"><use href="#e"/><use href="#b"/></g>
<g id="k44-5" class="D" transform="translate(405 1688.5)"><use href="#e"/><use href="#b"/></g>
<g id="k45-1" class="A" transform="translate(63 1726.5)"><use href="#e"/><use href="#f"/></g>
<g id="k45-2" class="F" transform="translate(139 1726.5)"><use href="#e"/><use href="#f"/></g>
<g id="k45-3" class="A" transform="translate(215 1726.5)"><use href="#e"/><use href="#f"/></g>
<g id="k45-4" class="A" transform="translate(291 1726.5)"><use href="#e"/><use href="#b"/></g>
<g id="k45-5" class="D" transform="translate(367 1726.5)"><use href="#e"/><use href="#b"/></g>
<g id="k45-6" class="A" transform="translate(443 1726.5)"><use href="#e"/><use href="#b"/></g>
<g id="k46-1" class="A" transform="translate(101 1764.5)"><use href="#e"/><use href="#f"/></g>
<g id="k46-2" class="F" transform="translate(177 1764.5)"><use href="#e"/><use href="#fb"/></g>
<g id="k46-3" class="A" transform="translate(253 1764.5)"><use href="#e"/><use href="#f"/></g>
<g id="k46-4" class="D" transform="translate(329 1764.5)"><use href="#e"/><use href="#bf"/></g>
<g id="k46-5" class="A" transform="translate(405 1764.5)"><use href="#e"/><use href="#f"/></g>
<g id="k47-1" class="A" transform="translate(63 1802.5)"><use href="#e"/><use href="#b"/></g>
<g id="k47-2" class="F" transform="translate(139 1802.5)"><use href="#e"/><use href="#b"/></g>
<g id="k47-3" class="A" transform="translate(215 1802.5)"><use href="#e"/><use href="#b"/></g>
<g id="k47-4" class="A" transform="translate(291 1802.5)"><use href="#e"/><use href="#f"/></g>
<g id="k47-5" class="D" transform="translate(367 1802.5)"><use href="#e"/><use href="#f"/></g>
<g id="k47-6" class="A" transform="translate(443 1802.5)"><use href="#e"/><use href="#f"/></g>
<g id="k48-1" class="F" transform="translate(101 1840.5)"><use href="#e"/><use href="#bf"/></g>
<g id="k48-2" class="A" transform="translate(177 1840.5)"><use href="#e"/><use href="#b"/></g>
<g id="k48-3" class="B" transform="translate(253 1840.5)"><use href="#e"/><use href="#f"/></g>
<g id="k48-4" class="A" transform="translate(329 1840.5)"><use href="#e"/><use href="#f"/></g>
<g id="k48-5" class="D" transform="translate(405 1840.5)"><use href="#e"/><use href="#fb"/></g>
</g>
<g id="stringlabels" class="sl">
<text x="44" y="16.7" fill="#fff">A</text><text x="82" y="16.7" fill="#333">C</text><text x="120" y="16.7" fill="#fff">F</text><text x="158" y="16.7" fill="#fff">A</text><text x="196" y="16.7" fill="#fff">A</text><text x="234" y="16.7" fill="#000">B</text><text x="272" y="16.7" fill="#000">B</text><text x="310" y="16.7" fill="#fff">A</text><text x="348" y="16.7" fill="#fff">A</text><text x="386" y="16.7" fill="#fff">D</text><text x="424" y="16.7" fill="#fff">E</text><text x="462" y="16.7" fill="#fff">A</text>
<text x="44" y="1888.3" fill="#fff">A</text><text x="82" y="1888.3" fill="#333">C</text><text x="120" y="1888.3" fill="#fff">F</text><text x="158" y="1888.3" fill="#fff">A</text><text x="196" y="1888.3" fill="#fff">A</text><text x="234" y="1888.3" fill="#000">B</text><text x="272" y="1888.3" fill="#000">B</text><text x="310" y="1888.3" fill="#fff">A</text><text x="348" y="1888.3" fill="#fff">A</text><text x="386" y="1888.3" fill="#fff">D</text><text x="424" y="1888.3" fill="#fff">E</text><text x="462" y="1888.3" fill="#fff">A</text>
</g>
<text id="watermark" class="wm" x="253.5" y="952.3">BRACELETBOOK.COM</text>
</svg>
